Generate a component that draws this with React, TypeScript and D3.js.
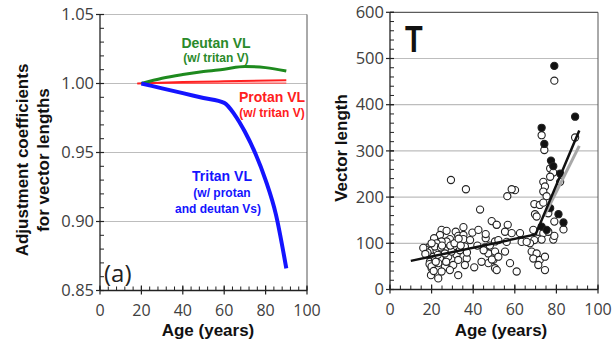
import React from 'react';
import * as d3 from 'd3';

const W = 613;
const H = 343;
const FONT = '"Open Sans", "Liberation Sans", sans-serif';
const TITLE_FONT = '"Liberation Sans", Arial, sans-serif';

// panel (a): adjustment coefficients vs age
const deutanAge = [20, 30, 40, 50, 60, 70, 80, 90];
const deutanVal = [1.0, 1.0038, 1.0065, 1.0087, 1.0104, 1.0123, 1.0115, 1.009];

const protanAge = [18, 40, 60, 90];
const protanVal = [1.0, 1.001, 1.0016, 1.0023];
const protanAge2 = [18, 90];
const protanVal2 = [1.0, 1.0003];

const tritanAge = [20, 30, 40, 50, 60, 65, 70, 75, 80, 85, 90];
const tritanVal = [1.0, 0.9965, 0.993, 0.9895, 0.986, 0.9775, 0.965, 0.9495, 0.93, 0.905, 0.866];

// panel T: vector length vs age (open = one fit, filled = other)
const openPts: [number, number][] = [
  [29.3, 237], [36.5, 217], [43.3, 173], [48.9, 148], [51.3, 140], [24.8, 129], [27.2, 127],
  [35.3, 135], [31.6, 125], [39.6, 123], [42.5, 129], [24, 118], [21.2, 111], [32.8, 116],
  [35.3, 118], [28.8, 109], [27.2, 104], [24.8, 104], [22.4, 100], [18.4, 91], [17.1, 87],
  [20, 85], [22.4, 84], [26.4, 85], [31.2, 94], [36, 93], [46, 111], [45.7, 91], [50.5, 104],
  [47.3, 78], [49.7, 64], [18.4, 75], [20.8, 71], [24, 67], [28, 71], [32, 75], [36.9, 67],
  [19.2, 60], [23.2, 57], [26.4, 49], [30.4, 53], [36, 53], [20, 46], [24.8, 39], [28.8, 42],
  [32.8, 31], [19.7, 31], [23.2, 24], [40.5, 48], [47.3, 57], [50.5, 46], [35.3, 109],
  [38.5, 107], [21.6, 93], [24.5, 91], [33.6, 85], [29.6, 82], [26.4, 78], [32.8, 64], [21.6, 64],
  [18, 80], [19, 55], [20, 50], [21, 40], [22, 60], [23, 75], [20, 100], [25, 95], [27, 60],
  [29, 95], [31, 100], [33, 110], [34, 95], [37, 80], [42, 95], [44, 60], [45, 85], [48, 95],
  [46, 120], [49, 65], [16, 90], [17, 77],
  [79, 452], [89, 329], [72.9, 334], [74.2, 302], [77, 262], [78.5, 253], [77, 244], [81.8, 233],
  [73.7, 233], [74.5, 223], [73.7, 212], [75.3, 202], [69.4, 185], [72, 183], [73.7, 188],
  [69.7, 163], [70.5, 158], [76.1, 165], [79, 147], [83.4, 130], [71.3, 125], [73.7, 122],
  [78.5, 108], [79, 116], [76.1, 125], [68.9, 129], [72.9, 108], [69.4, 107], [67.3, 100],
  [68.1, 82], [70.5, 78], [68.9, 67], [72, 64], [71.3, 53], [74.5, 71], [74.5, 42],
  [60.1, 215], [58.5, 217], [56.4, 202], [51.3, 140], [56.6, 140], [55.3, 125], [58.5, 122],
  [62.5, 122], [52.1, 107], [56.1, 103], [63.3, 103], [65.7, 103], [50.5, 82], [52.1, 71],
  [55.3, 82], [57.7, 57], [60.9, 39], [51.3, 42],
];
const filledPts: [number, number][] = [
  [79, 484], [89, 374], [72.9, 350], [74.2, 315], [77.4, 279], [78.5, 267], [81.8, 251],
  [77, 176], [81, 163], [83.4, 145], [72.9, 136], [75.3, 129],
];

// fitted lines
const fitBlackAge = [10, 70, 91];
const fitBlackVal = [62, 119, 344];
const fitGrayAge = [74, 91];
const fitGrayVal = [158, 311];

const xL = d3.scaleLinear().domain([0, 100]).range([100, 307]);
const yL = d3.scaleLinear().domain([0.85, 1.05]).range([290.5, 14.5]);
const xR = d3.scaleLinear().domain([0, 100]).range([390, 598]);
const yR = d3.scaleLinear().domain([0, 600]).range([289.5, 12.3]);

type Scale = d3.ScaleLinear<number, number>;

function Axes({ x, y, xMinor, yMinor, yMajor, yFmt, frameTop }: {
  x: Scale; y: Scale; xMinor: number; yMinor: number; yMajor: number;
  yFmt: (v: number) => string; frameTop: boolean;
}) {
  const [x0, x1] = x.range();
  const [y0, y1] = y.range();
  const [d0, d1] = y.domain();
  const yMaj = d3.range(d0, d1 + 1e-9, yMajor);
  const yMin = d3.range(d0, d1 + 1e-9, yMinor);
  return (
    <g>
      {/* grid */}
      {yMaj.slice(1, frameTop ? -1 : undefined).map((v) => (
        <line key={'g' + v} x1={x0} x2={x1} y1={y(v)} y2={y(v)} stroke="#bdbdbd" strokeWidth={1.2} />
      ))}
      {frameTop && <line x1={x0} x2={x1} y1={y1} y2={y1} stroke="#333" strokeWidth={1} />}
      <line x1={x1} x2={x1} y1={y1} y2={y0} stroke="#555" strokeWidth={1} />
      {/* axes */}
      <line x1={x0} x2={x0} y1={y1} y2={y0} stroke="#222" strokeWidth={1.3} />
      <line x1={x0} x2={x1} y1={y0} y2={y0} stroke="#222" strokeWidth={1.3} />
      {yMin.map((v) => (
        <line key={'ym' + v} x1={x0} x2={x0 + 4} y1={y(v)} y2={y(v)} stroke="#222" strokeWidth={1} />
      ))}
      {yMaj.map((v) => (
        <g key={'yM' + v}>
          <line x1={x0 - 4} x2={x0 + 4} y1={y(v)} y2={y(v)} stroke="#222" strokeWidth={1.2} />
          <text x={x0 - 6} y={y(v)} dy="0.35em" textAnchor="end" fontSize={16.5} fill="#404040">{yFmt(v)}</text>
        </g>
      ))}
      {d3.range(0, 101, xMinor).map((v) => (
        <line key={'xm' + v} x1={x(v)} x2={x(v)} y1={y0} y2={y0 - 4} stroke="#222" strokeWidth={1} />
      ))}
      {d3.range(0, 101, 20).map((v) => (
        <g key={'xM' + v}>
          <line x1={x(v)} x2={x(v)} y1={y0 + 4} y2={y0 - 5} stroke="#222" strokeWidth={1.2} />
          <text x={x(v)} y={y0 + 25} textAnchor="middle" fontSize={16} fill="#404040">{v}</text>
        </g>
      ))}
    </g>
  );
}

export default function App() {
  const lineL = (ages: number[], vals: number[]) =>
    d3.line<number>().x((d, i) => xL(ages[i])).y((d) => yL(d)).curve(d3.curveMonotoneX)(vals) || '';
  const lineR = (ages: number[], vals: number[]) =>
    d3.line<number>().x((d, i) => xR(ages[i])).y((d) => yR(d))(vals) || '';

  return (
    <svg width={W} height={H} style={{ position: 'absolute', left: 0, top: 0, background: '#fff' }} fontFamily={FONT}>
      {/* panel (a) */}
      <Axes x={xL} y={yL} xMinor={4} yMinor={0.01} yMajor={0.05} yFmt={d3.format('.2f')} frameTop={false} />
      <path d={lineL(protanAge2, protanVal2)} fill="none" stroke="#ff5050" strokeWidth={1.2} />
      <path d={lineL(protanAge, protanVal)} fill="none" stroke="#ff2020" strokeWidth={2} />
      <path d={lineL(deutanAge, deutanVal)} fill="none" stroke="#1e8a1e" strokeWidth={3} />
      <path d={lineL(tritanAge, tritanVal)} fill="none" stroke="#1414ff" strokeWidth={4} />
      <g fontWeight="bold" textAnchor="middle" fontFamily={TITLE_FONT}>
        <text x={216} y={47.5} fontSize={14} fill="#2a8a2a">Deutan VL</text>
        <text x={216} y={62} fontSize={12} fill="#2a8a2a">(w/ tritan V)</text>
        <text x={272} y={102} fontSize={14} fill="#ff2020">Protan VL</text>
        <text x={272} y={117} fontSize={12} fill="#ff2020">(w/ tritan V)</text>
        <text x={222} y={181} fontSize={14} fill="#1414ff">Tritan VL</text>
        <text x={222} y={196.5} fontSize={12} fill="#1414ff">(w/ protan</text>
        <text x={218} y={213} fontSize={12} fill="#1414ff">and deutan Vs)</text>
      </g>
      <text x={104} y={282} fontSize={24} fill="#222">(a)</text>
      <g fontWeight="bold" fontSize={17} textAnchor="middle" fill="#111" fontFamily={TITLE_FONT}>
        <text transform="translate(28,160) rotate(-90)">Adjustment coefficients</text>
        <text transform="translate(49,160) rotate(-90)">for vector lengths</text>
        <text x={208} y={336}>Age (years)</text>
        <text transform="translate(347,148) rotate(-90)">Vector length</text>
        <text x={501} y={336}>Age (years)</text>
      </g>

      {/* panel T */}
      <Axes x={xR} y={yR} xMinor={5} yMinor={20} yMajor={100} yFmt={d3.format('d')} frameTop={true} />
      <text transform="translate(405,52) scale(0.78,1)" fontSize={37} fontWeight="bold" fill="#111" fontFamily={TITLE_FONT}>T</text>
      {openPts.map(([a, v], i) => (
        <circle key={'o' + i} cx={xR(a)} cy={yR(v)} r={3.6} fill="#fff" stroke="#222" strokeWidth={1.1} />
      ))}
      {filledPts.map(([a, v], i) => (
        <circle key={'f' + i} cx={xR(a)} cy={yR(v)} r={3.6} fill="#111" stroke="#222" strokeWidth={1.1} />
      ))}
      <path d={lineR(fitGrayAge, fitGrayVal)} fill="none" stroke="#a8a8a8" strokeWidth={3} />
      <path d={lineR(fitBlackAge, fitBlackVal)} fill="none" stroke="#111" strokeWidth={2.5} />
    </svg>
  );
}
